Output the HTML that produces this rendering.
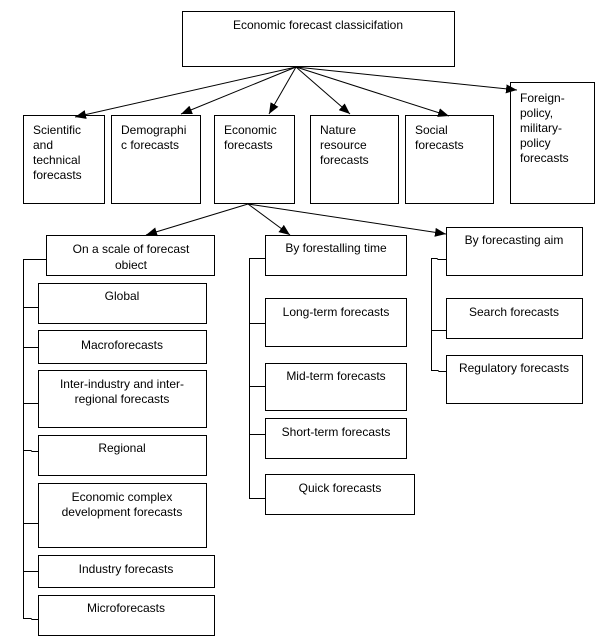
<!DOCTYPE html>
<html><head><meta charset="utf-8"><style>
html,body{margin:0;padding:0;background:#fff;}
svg{display:block;}
text{font-family:"Liberation Sans",sans-serif;font-size:12px;fill:#000;}
</style></head><body>
<svg width="610" height="641" viewBox="0 0 610 641" xmlns="http://www.w3.org/2000/svg">
<defs>
<marker id="a" markerWidth="11" markerHeight="9" refX="11" refY="4.5" orient="auto" markerUnits="userSpaceOnUse">
<path d="M0,0 L11,4.5 L0,9 z" fill="#000"/></marker>
</defs>
<g fill="none" stroke="#000" stroke-width="1">
<rect x="182.5" y="11.5" width="272" height="55"/>
<rect x="23.5" y="115.5" width="81" height="88"/>
<rect x="111.5" y="115.5" width="89" height="88"/>
<rect x="214.5" y="115.5" width="80" height="88"/>
<rect x="310.5" y="115.5" width="88" height="88"/>
<rect x="405.5" y="115.5" width="88" height="88"/>
<rect x="510.5" y="82.5" width="84" height="121"/>

<line x1="296" y1="67" x2="75" y2="117" marker-end="url(#a)"/>
<line x1="296" y1="67" x2="181" y2="114" marker-end="url(#a)"/>
<line x1="296" y1="67" x2="269" y2="114" marker-end="url(#a)"/>
<line x1="296" y1="67" x2="350" y2="114" marker-end="url(#a)"/>
<line x1="296" y1="67" x2="449" y2="116" marker-end="url(#a)"/>
<line x1="296" y1="67" x2="517" y2="90" marker-end="url(#a)"/>

<line x1="248" y1="204" x2="146" y2="235" marker-end="url(#a)"/>
<line x1="248" y1="204" x2="290" y2="235" marker-end="url(#a)"/>
<line x1="248" y1="204" x2="446" y2="234" marker-end="url(#a)"/>

<rect x="46.5" y="235.5" width="168" height="40"/>
<rect x="38.5" y="283.5" width="168" height="40"/>
<rect x="38.5" y="330.5" width="168" height="33"/>
<rect x="38.5" y="370.5" width="168" height="57"/>
<rect x="38.5" y="435.5" width="168" height="40"/>
<rect x="38.5" y="483.5" width="168" height="64"/>
<rect x="38.5" y="555.5" width="176" height="32"/>
<rect x="38.5" y="595.5" width="176" height="40"/>
<path d="M46,259.5 H23.5 V618.5 H31 L32,619.5 H38"/>
<path d="M23.5,307.5 H38 M23.5,347.5 H38 M23.5,403.5 H38 M23.5,450.5 H31 L32,451.5 H38 M23.5,523.5 H38 M23.5,571.5 H38"/>

<rect x="265.5" y="235.5" width="141" height="40"/>
<rect x="265.5" y="298.5" width="141" height="48"/>
<rect x="265.5" y="363.5" width="141" height="47"/>
<rect x="265.5" y="418.5" width="141" height="40"/>
<rect x="265.5" y="474.5" width="149" height="40"/>
<path d="M265,258.5 H249.5 V498.5 H265 M249.5,323.5 H265 M249.5,386.5 H265 M249.5,434.5 H265"/>

<rect x="446.5" y="227.5" width="136" height="48"/>
<rect x="446.5" y="298.5" width="136" height="40"/>
<rect x="446.5" y="355.5" width="136" height="48"/>
<path d="M446,259.5 H438 L437,258.5 H431.5 V370.5 H438 L439,371.5 H446 M431.5,330.5 H446"/>
</g>
<text x="318" y="29" text-anchor="middle">Economic forecast classicifation</text>
<g>
<text x="33" y="134">Scientific</text><text x="33" y="149">and</text><text x="33" y="164">technical</text><text x="33" y="179">forecasts</text>
<text x="121" y="134">Demographi</text><text x="121" y="149">c forecasts</text>
<text x="224" y="134">Economic</text><text x="224" y="149">forecasts</text>
<text x="320" y="134">Nature</text><text x="320" y="149">resource</text><text x="320" y="164">forecasts</text>
<text x="415" y="134">Social</text><text x="415" y="149">forecasts</text>
<text x="520" y="102">Foreign-</text><text x="520" y="117">policy,</text><text x="520" y="132">military-</text><text x="520" y="147">policy</text><text x="520" y="162">forecasts</text>
</g>
<g text-anchor="middle">
<text x="131" y="253">On a scale of forecast</text><text x="131" y="269">obiect</text>
<text x="122" y="300">Global</text>
<text x="122" y="349">Macroforecasts</text>
<text x="122" y="388">Inter-industry and inter-</text><text x="122" y="403">regional forecasts</text>
<text x="122" y="452">Regional</text>
<text x="122" y="501">Economic complex</text><text x="122" y="516">development forecasts</text>
<text x="126" y="573">Industry forecasts</text>
<text x="126" y="612">Microforecasts</text>
<text x="336" y="252">By  forestalling time</text>
<text x="336" y="316">Long-term forecasts</text>
<text x="336" y="380">Mid-term forecasts</text>
<text x="336" y="436">Short-term forecasts</text>
<text x="340" y="492">Quick forecasts</text>
<text x="514" y="244">By forecasting aim</text>
<text x="514" y="316">Search forecasts</text>
<text x="514" y="372">Regulatory forecasts</text>
</g>
</svg>
</body></html>
